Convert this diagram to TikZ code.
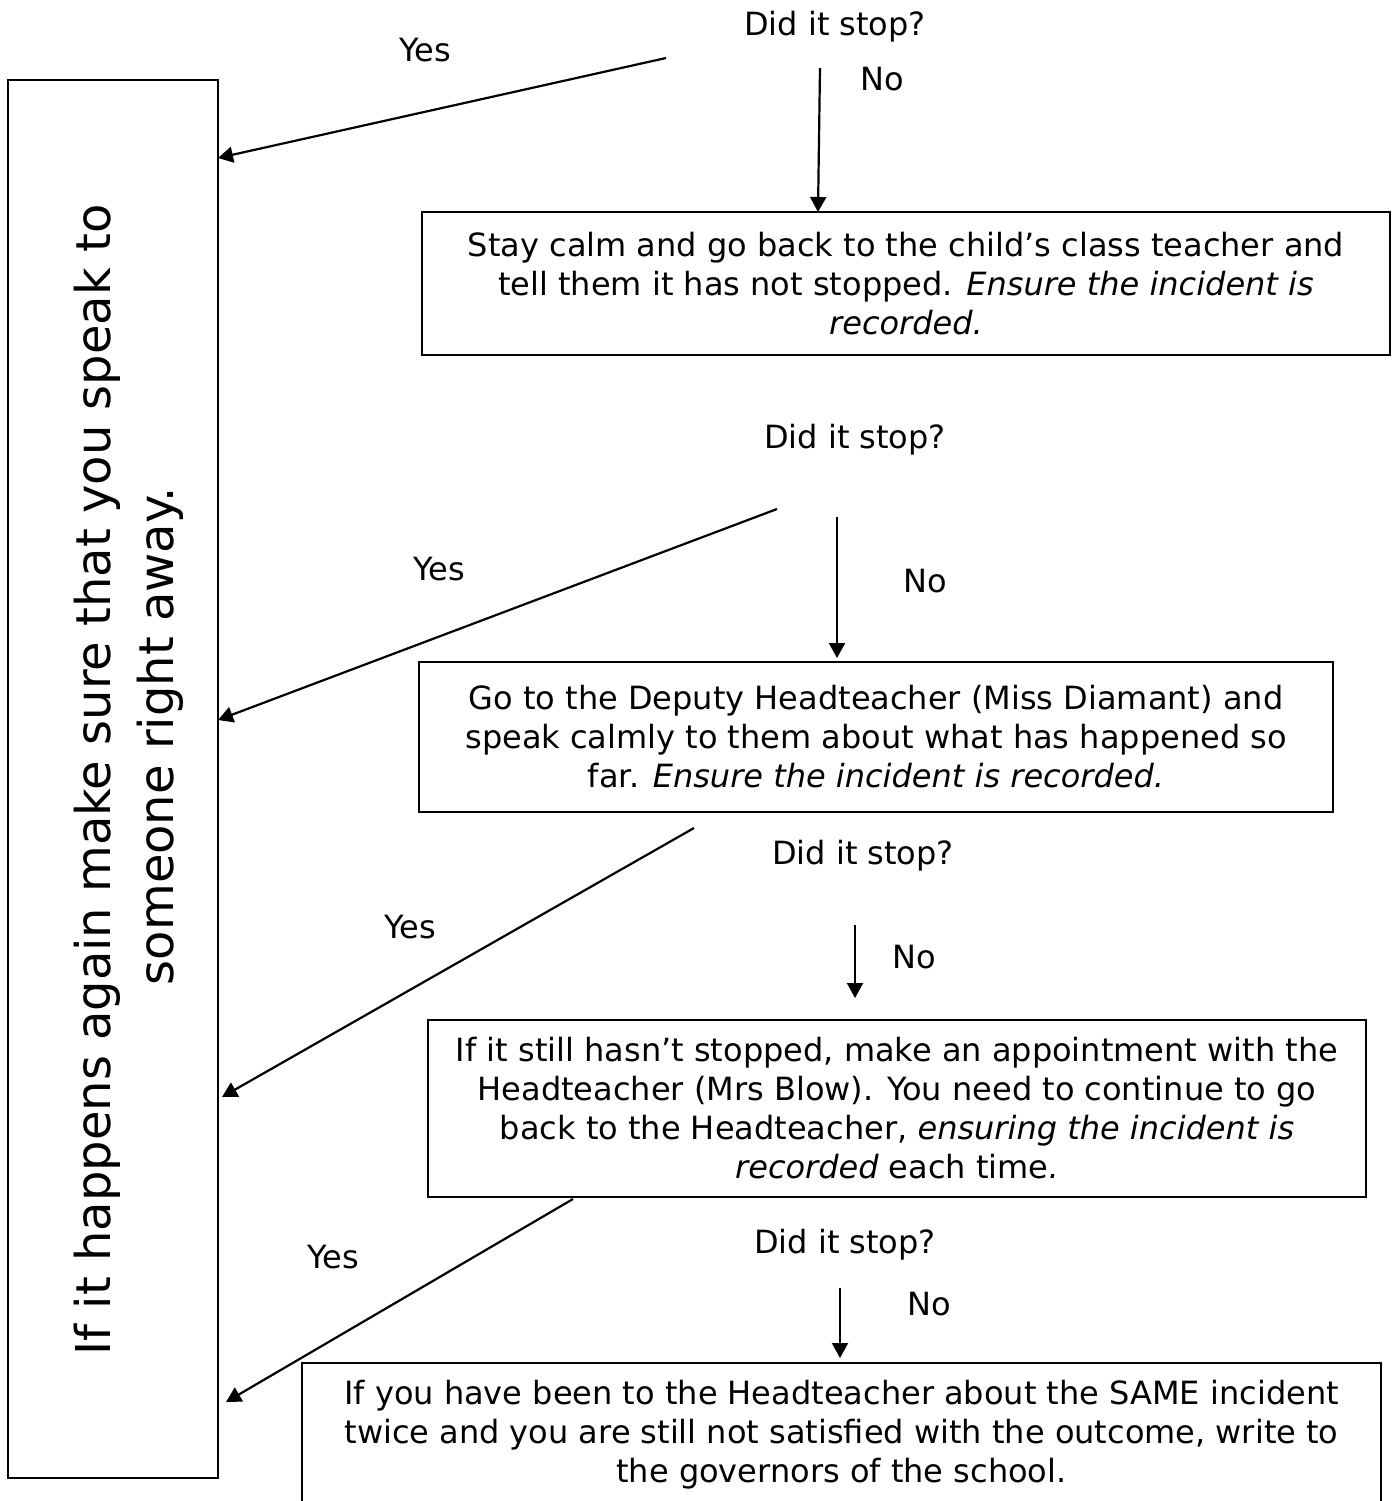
\documentclass[tikz,border=0pt]{standalone}
\usepackage{fontspec}
\setmainfont{DejaVu Sans}
\usetikzlibrary{arrows.meta}
\begin{document}
\begin{tikzpicture}[x=0.5pt,y=-0.5pt,
  box/.style={draw,line width=1.1pt,align=center,inner sep=0pt,font=\fontsize{16}{19.5}\selectfont},
  lbl/.style={font=\fontsize{16}{19.5}\selectfont,inner sep=0pt},
  arr/.style={line width=1.1pt,-{Triangle[length=7.5pt,width=8pt]}}]
\useasboundingbox (0,0) rectangle (1392,1501);
\fill[white] (0,0) rectangle (1392,1501);
% left box
\node[draw,line width=1.2pt,minimum width=105pt,minimum height=699pt,inner sep=0pt] (left) at (113,779) {};
\node[rotate=90,align=center,inner sep=0pt,font=\fontsize{24}{31.5}\selectfont] (lt) at (129,780)
  {If it happens again make sure that you speak to\\\hspace*{44pt}someone right away.};
% boxes
\node[box,minimum width=484pt,minimum height=71.5pt] (b1) at (906,283.5)
  {Stay calm and go back to the child’s class teacher and\\ tell them it has not stopped. \textit{Ensure the incident is}\\ \textit{recorded.}};
\node[box,minimum width=457pt,minimum height=75pt] (b2) at (876,737)
  {Go to the Deputy Headteacher (Miss Diamant) and\\ speak calmly to them about what has happened so\\ far. \textit{Ensure the incident is recorded.}};
\node[box,minimum width=469pt,minimum height=88.5pt] (b3) at (897,1108.5)
  {If it still hasn’t stopped, make an appointment with the\\ Headteacher (Mrs Blow). You need to continue to go\\ back to the Headteacher, \textit{ensuring the incident is}\\ \textit{recorded} each time\textit{.}};
\node[box,minimum width=539.5pt,minimum height=72pt] (b4) at (841.5,1435)
  {If you have been to the Headteacher about the SAME incident\\ twice and you are still not satisfied with the outcome, write to\\ the governors of the school.};
% labels
\node[lbl] (q1) at (835,27) {Did it stop?};
\node[lbl] (q2) at (855,440) {Did it stop?};
\node[lbl] (q3) at (863,856) {Did it stop?};
\node[lbl] (q4) at (845,1245) {Did it stop?};
\node[lbl] (n1) at (882,79) {No};
\node[lbl] (n2) at (925,581) {No};
\node[lbl] (n3) at (914,957) {No};
\node[lbl] (n4) at (929,1304) {No};
\node[lbl] (y1) at (425,50) {Yes};
\node[lbl] (y2) at (439,569) {Yes};
\node[lbl] (y3) at (410,927) {Yes};
\node[lbl] (y4) at (333,1257) {Yes};
% connector ends
\coordinate (a1s) at (666,58);  \coordinate (a1e) at (218,158);
\coordinate (a2s) at (777,509); \coordinate (a2e) at (218,720);
\coordinate (a3s) at (694,828); \coordinate (a3e) at (222,1097);
\coordinate (a4s) at (573,1199);\coordinate (a4e) at (226,1402);
\coordinate (d1s) at (820,68);  \coordinate (d1e) at (818,212);
\coordinate (d2s) at (837,517); \coordinate (d2e) at (837,658);
\coordinate (d3s) at (855,925); \coordinate (d3e) at (855,998);
\coordinate (d4s) at (840,1288);\coordinate (d4e) at (840,1358);
\draw[arr] (a1s) -- (a1e);
\draw[arr] (a2s) -- (a2e);
\draw[arr] (a3s) -- (a3e);
\draw[arr] (a4s) -- (a4e);
\draw[arr] (d1s) -- (d1e);
\draw[arr] (d2s) -- (d2e);
\draw[arr] (d3s) -- (d3e);
\draw[arr] (d4s) -- (d4e);
\end{tikzpicture}
\end{document}
